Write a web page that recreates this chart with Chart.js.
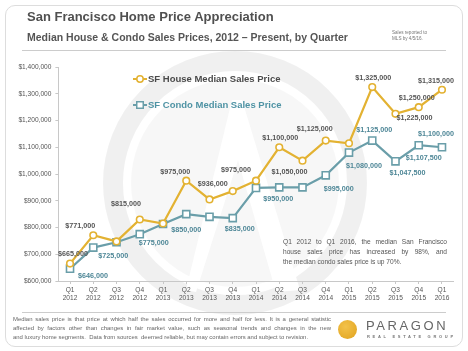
<!DOCTYPE html>
<html>
<head>
<meta charset="utf-8">
<script src="https://cdn.jsdelivr.net/npm/chart.js@4.4.1/dist/chart.umd.min.js"></script>
<style>
  body { margin: 0; width: 468px; height: 351px; overflow: hidden; background: #fff;
         font-family: "Liberation Sans", Arial, sans-serif; color: #555; }
  #card { position: absolute; left: 5px; top: 5px; width: 456px; height: 340px;
          border: 1px solid #ddd; border-radius: 10px; }
  #chart { position: absolute; left: 0; top: 0; }
  .abs { position: absolute; white-space: nowrap; }
  #title { left: 27px; top: 9px; font-size: 13px; font-weight: bold; color: #505050; }
  #subtitle { left: 27px; top: 31px; font-size: 10.5px; font-weight: bold; color: #555; }
  #note { left: 392px; top: 30px; font-size: 4.6px; line-height: 6px; color: #777; }
  .rule { position: absolute; left: 22px; width: 424px; height: 1px; background: #ccc; }
  #comment { left: 283px; top: 237px; width: 164px; font-size: 6.6px; line-height: 10px; color: #555; }
  #comment div, #foot div { text-align: justify; text-align-last: justify; white-space: nowrap; }
  #comment div.last, #foot div.last { text-align-last: left; }
  #foot { left: 13px; top: 315px; width: 318px; font-size: 5.95px; line-height: 9px; color: #666; }
  #logo { left: 338px; top: 320px; width: 19px; height: 19px; border-radius: 50%;
          background: radial-gradient(circle at 40% 35%, #f3c24a, #e0a21e); }
  #paragon { left: 366px; top: 318px; font-size: 13px; letter-spacing: 2.6px; color: #666; }
  #reg { left: 367px; top: 334px; font-size: 4px; letter-spacing: 2.7px; color: #777; font-weight: bold; }
</style>
</head>
<body>
<div id="card"></div>
<canvas id="chart" width="468" height="351"></canvas>
<div id="title" class="abs">San Francisco Home Price Appreciation</div>
<div id="subtitle" class="abs">Median House &amp; Condo Sales Prices, 2012 – Present, by Quarter</div>
<div id="note" class="abs">Sales reported to<br>MLS by 4/5/16.</div>
<div class="rule" style="top:50px"></div>
<div class="rule" style="top:312px"></div>
<div id="comment" class="abs">
  <div>Q1 2012 to Q1 2016, the median San Francisco</div>
  <div>house sales price has increased by 98%, and</div>
  <div class="last">the median condo sales price is up 70%.</div>
</div>
<div id="foot" class="abs">
  <div>Median sales price is that price at which half the sales occurred for more and half for less. It is a general statistic</div>
  <div>affected by factors other than changes in fair market value, such as seasonal trends and changes in the new</div>
  <div class="last">and luxury home segments.&nbsp; Data from sources&nbsp; deemed reliable, but may contain errors and subject to revision.</div>
</div>
<div id="logo" class="abs"></div>
<div id="paragon" class="abs">PARAGON</div>
<div id="reg" class="abs">REAL ESTATE GROUP</div>

<script>
// quarters on the x axis
const quarters = ['Q1','Q2','Q3','Q4','Q1','Q2','Q3','Q4','Q1','Q2','Q3','Q4','Q1','Q2','Q3','Q4','Q1'];
const years = ['2012','2012','2012','2012','2013','2013','2013','2013','2014','2014','2014','2014','2015','2015','2015','2015','2016'];

// median sales prices
const houseValues = [665000, 771000, 748000, 830000, 815000, 975000, 905000, 936000, 975000,
                     1100000, 1050000, 1125000, 1115000, 1325000, 1225000, 1250000, 1315000];
const condoValues = [646000, 725000, 745000, 775000, 813000, 850000, 840000, 835000, 948000,
                     950000, 950000, 995000, 1080000, 1125000, 1047500, 1107500, 1100000];

// printed value labels (null = no label on the chart)
const houseLabels = ['$665,000','$771,000',null,null,'$815,000','$975,000',null,'$936,000','$975,000',
                     '$1,100,000','$1,050,000','$1,125,000',null,'$1,325,000','$1,225,000','$1,250,000','$1,315,000'];
const condoLabels = ['$646,000','$725,000',null,'$775,000',null,'$850,000',null,'$835,000',null,
                     '$950,000',null,'$995,000','$1,080,000','$1,125,000','$1,047,500','$1,107,500','$1,100,000'];

const yTicks = [600000, 700000, 800000, 900000, 1000000, 1100000, 1200000, 1300000, 1400000];

const GOLD = '#e3b232';
const TEAL = '#6a9ea9';

// where each label sits relative to its point
const houseLabelOffsets = [[3,-10],[-13,-9],null,null,[-37,-19],[-11,-9],null,[-20,-7],[-20,-11],
                           [1,-9],[-13,11],[-11,-12],null,[1,-9],[19,4],[-2,-9],[-6,-9]];
const condoLabelOffsets = [[23,7],[20,8],null,[14,9],null,[0,16],null,[7,11],null,
                           [-1,12],null,[13,14],[15,13],[2,-11],[12,12],[5,13],[-6,-13]];

const fmt = v => '$' + v.toLocaleString('en-US');

// faint logo watermark behind the plot
const watermark = {
  id: 'watermark',
  beforeDraw(chart) {
    const ctx = chart.ctx;
    ctx.save();
    ctx.fillStyle = 'rgba(0,0,0,0.03)';
    ctx.beginPath();
    ctx.arc(235, 183, 104, 0, Math.PI * 2);
    ctx.fill();
    ctx.strokeStyle = 'rgba(0,0,0,0.06)';
    ctx.lineWidth = 20;
    ctx.beginPath();
    ctx.arc(235, 183, 122, 0, Math.PI * 2);
    ctx.stroke();
    // the white "A" mark
    ctx.fillStyle = '#fff';
    ctx.beginPath();
    ctx.moveTo(232, 100);
    ctx.lineTo(242, 100);
    ctx.lineTo(300, 290);
    ctx.lineTo(276, 292);
    ctx.lineTo(238, 160);
    ctx.lineTo(196, 292);
    ctx.lineTo(186, 290);
    ctx.closePath();
    ctx.fill();
    ctx.restore();
  }
};

// value labels and the in-plot legend
const annotate = {
  id: 'annotate',
  afterDatasetsDraw(chart) {
    const ctx = chart.ctx;
    const sets = [
      { meta: chart.getDatasetMeta(0), labels: houseLabels, offs: houseLabelOffsets, color: '#555' },
      { meta: chart.getDatasetMeta(1), labels: condoLabels, offs: condoLabelOffsets, color: '#4d8696' }
    ];
    ctx.save();
    ctx.font = 'bold 7.2px "Liberation Sans", Arial, sans-serif';
    ctx.textAlign = 'center';
    ctx.textBaseline = 'middle';
    sets.forEach(s => {
      ctx.fillStyle = s.color;
      s.meta.data.forEach((pt, i) => {
        if (!s.labels[i]) return;
        const o = s.offs[i];
        ctx.fillText(s.labels[i], pt.x + o[0], pt.y + o[1]);
      });
    });

    // legend
    const items = [
      { y: 79, color: GOLD, text: 'SF House Median Sales Price', textColor: '#4a4a4a', style: 'circle', r: 3.2 },
      { y: 105, color: TEAL, text: 'SF Condo Median Sales Price', textColor: '#4f93a4', style: 'rect', r: 4.6 }
    ];
    ctx.font = 'bold 9.5px "Liberation Sans", Arial, sans-serif';
    ctx.textAlign = 'left';
    items.forEach(it => {
      ctx.strokeStyle = it.color;
      ctx.lineWidth = 2;
      ctx.beginPath();
      ctx.moveTo(133, it.y);
      ctx.lineTo(147, it.y);
      ctx.stroke();
      ctx.fillStyle = '#fff';
      ctx.lineWidth = 1.5;
      if (it.style === 'circle') {
        ctx.beginPath(); ctx.arc(140, it.y, it.r, 0, Math.PI * 2); ctx.fill(); ctx.stroke();
      } else {
        const h = it.r / Math.SQRT2;
        ctx.fillRect(140 - h, it.y - h, 2 * h, 2 * h);
        ctx.strokeRect(140 - h, it.y - h, 2 * h, 2 * h);
      }
      ctx.fillStyle = it.textColor;
      ctx.fillText(it.text, 148, it.y + 0.5);
    });
    ctx.restore();
  }
};

new Chart(document.getElementById('chart'), {
  type: 'line',
  data: {
    labels: quarters.map((q, i) => [q, years[i]]),
    datasets: [
      {
        label: 'SF House Median Sales Price',
        data: houseValues,
        borderColor: GOLD,
        borderWidth: 2.2,
        backgroundColor: '#fff',
        pointStyle: 'circle',
        pointRadius: 3.3,
        pointBorderWidth: 1.6,
        pointBorderColor: GOLD,
        tension: 0
      },
      {
        label: 'SF Condo Median Sales Price',
        data: condoValues,
        borderColor: TEAL,
        borderWidth: 2.2,
        backgroundColor: '#fff',
        pointStyle: 'rect',
        pointRadius: 5,
        pointBorderWidth: 1.6,
        pointBorderColor: TEAL,
        tension: 0
      }
    ]
  },
  options: {
    responsive: false,
    animation: false,
    layout: { padding: { left: 0, right: 14.4, top: 67, bottom: 40 } },
    plugins: { legend: { display: false }, tooltip: { enabled: false } },
    scales: {
      x: {
        offset: true,
        afterFit: s => { s.height = 30; },
        border: { display: true, color: '#c8c8c8' },
        grid: { display: true, drawOnChartArea: false, drawTicks: true, tickLength: 3, color: '#c8c8c8' },
        ticks: { color: '#555', font: { size: 6.6, family: '"Liberation Sans", Arial, sans-serif' },
                 padding: 2, maxRotation: 0, autoSkip: false }
      },
      y: {
        min: yTicks[0],
        max: yTicks[yTicks.length - 1],
        afterFit: s => { s.width = 58.4; },
        afterBuildTicks: s => { s.ticks = yTicks.map(v => ({ value: v })); },
        border: { display: true, color: '#c8c8c8' },
        grid: { display: true, drawOnChartArea: false, drawTicks: true, tickLength: 3, color: '#c8c8c8' },
        ticks: { color: '#555', font: { size: 6.6, family: '"Liberation Sans", Arial, sans-serif' },
                 padding: 4, callback: v => fmt(v) }
      }
    }
  },
  plugins: [watermark, annotate]
});
</script>
</body>
</html>
